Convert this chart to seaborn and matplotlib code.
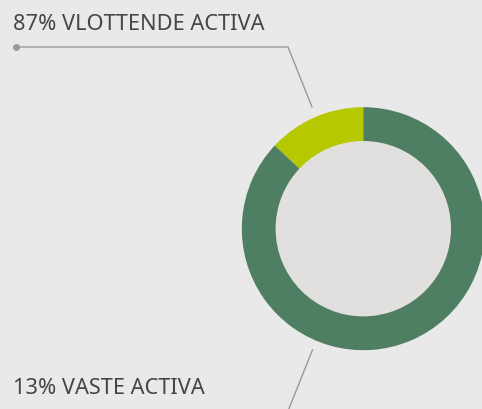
import matplotlib
matplotlib.use("Agg")
import matplotlib.pyplot as plt
import seaborn as sns

# Data
slice_names = ["VASTE ACTIVA", "VLOTTENDE ACTIVA"]
slice_values = [13, 87]
slice_colors = ["#b5c800", "#4f7f62"]
label_pcts = [87, 13]
label_names = ["VLOTTENDE ACTIVA", "VASTE ACTIVA"]

bg = "#e9e9e9"
sns.set_style({"axes.facecolor": bg, "figure.facecolor": bg})
plt.rcParams["font.family"] = ["Noto Sans", "DejaVu Sans"]

W, H = 482, 409
fig = plt.figure(figsize=(W / 100, H / 100), dpi=100)
ax = fig.add_axes([0, 0, 1, 1])

# donut (pixel coordinates, y measured from bottom)
cx, cy, r = 363.3, H - 228.7, 121.5
ax.pie(slice_values, colors=slice_colors, startangle=90, counterclock=True,
       radius=r, center=(cx, cy), wedgeprops=dict(width=r * 0.284, linewidth=0))
ax.add_patch(plt.Circle((cx, cy), r * 0.716, color="#e1e0de", zorder=3))

ax.set_xlim(0, W)
ax.set_ylim(0, H)
ax.set_aspect("auto")
ax.axis("off")

# labels + leader lines
txt_color = "#464646"
line_color = "#9a9a9a"
ax.text(13, H - 29.5, f"{label_pcts[0]}% {label_names[0]}", fontsize=15.7,
        color=txt_color, va="baseline", ha="left")
ax.plot([15.5, 288, 312], [H - 47, H - 47, H - 107], color=line_color, lw=1)
ax.plot([15.5], [H - 47], "o", color=line_color, ms=4)

ax.text(13, H - 394.3, f"{label_pcts[1]}% {label_names[1]}", fontsize=15.7,
        color=txt_color, va="baseline", ha="left")
ax.plot([312.5, 288], [H - 350, H - 411], color=line_color, lw=1)

fig.savefig("out.png", dpi=100, facecolor=bg)
